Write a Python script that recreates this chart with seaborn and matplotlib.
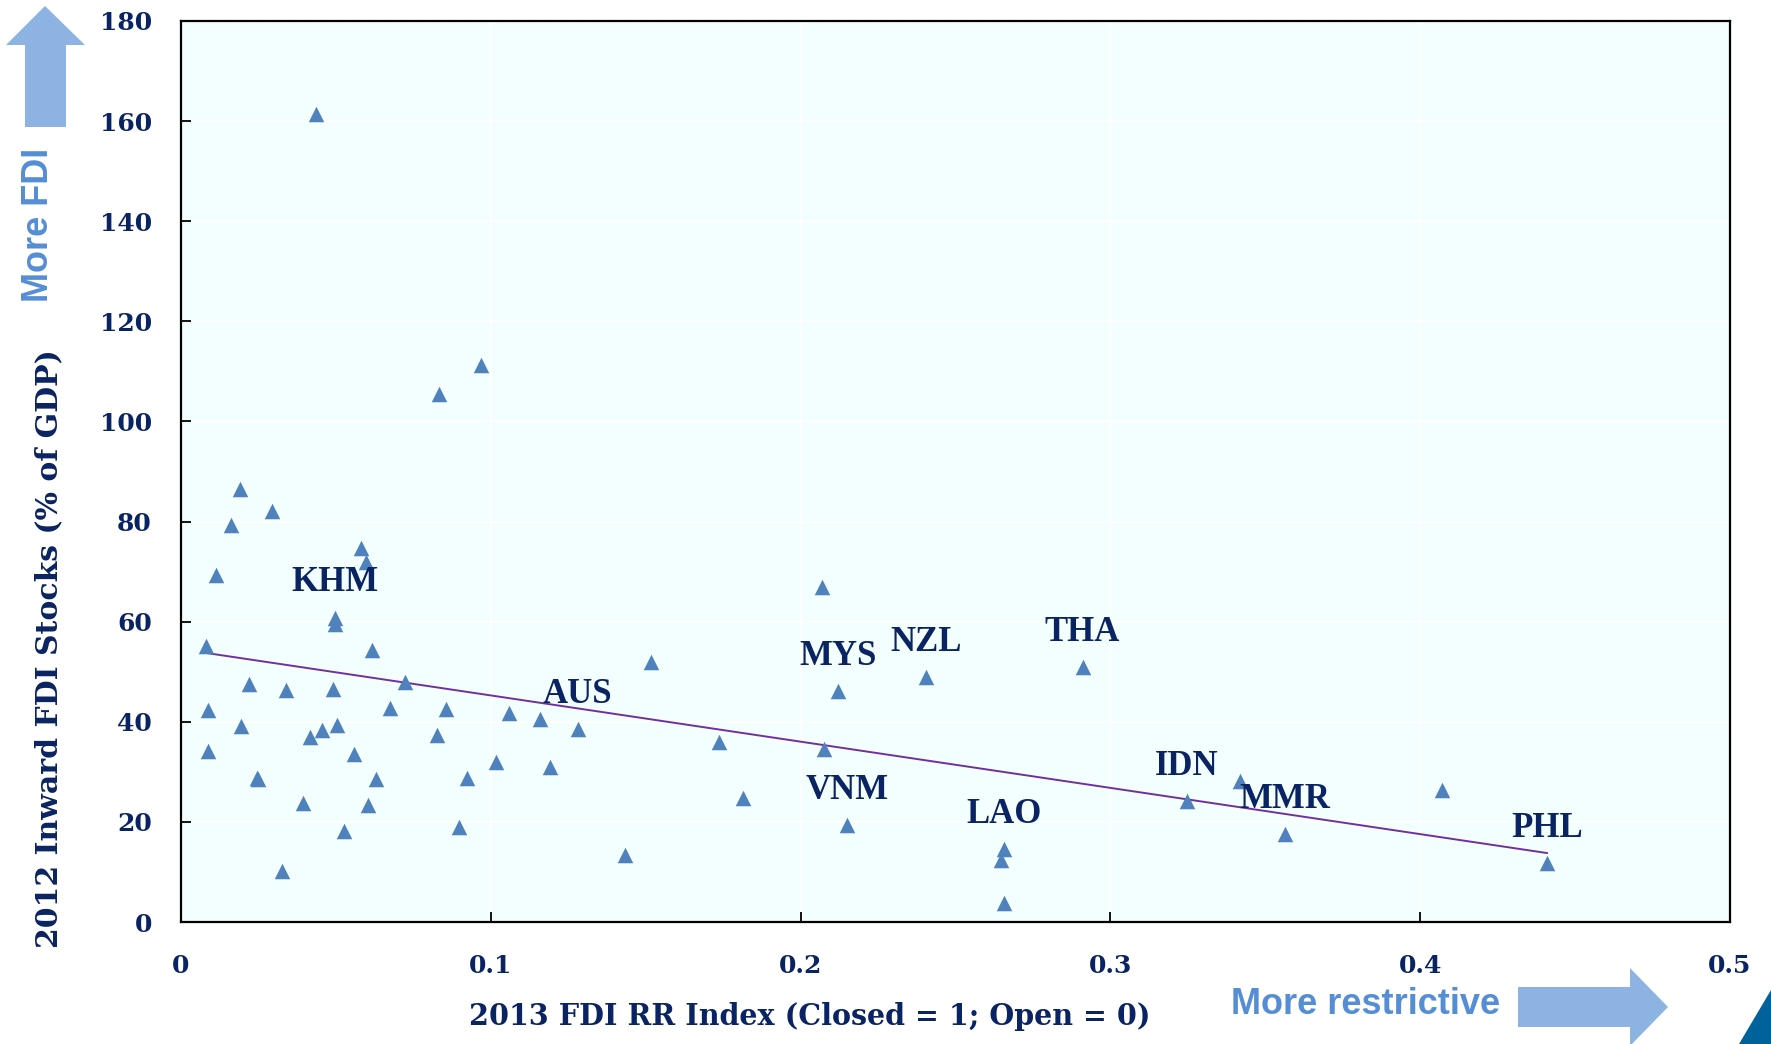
import numpy as np
import pandas as pd
import seaborn as sns
import matplotlib.pyplot as plt
from matplotlib.patches import Polygon

# 2013 FDI regulatory restrictiveness index vs 2012 inward FDI stocks (% of GDP)
rr_index = [0.0436, 0.0967, 0.0833, 0.0189, 0.0295, 0.0160, 0.0113, 0.0580, 0.0596, 0.2070,
            0.0498, 0.0498, 0.0080, 0.0618, 0.1516, 0.2910, 0.2404, 0.0218, 0.0724, 0.0338,
            0.0491, 0.2120, 0.0087, 0.0676, 0.0855, 0.1060, 0.1160, 0.0193, 0.0505, 0.1280,
            0.0455, 0.0415, 0.0825, 0.1735, 0.0087, 0.0560, 0.2076, 0.1018, 0.1190, 0.0244,
            0.0250, 0.0629, 0.0924, 0.4070, 0.3418, 0.0393, 0.0604, 0.3247, 0.1815, 0.2149,
            0.0527, 0.0898, 0.3564, 0.2658, 0.2647, 0.1433, 0.4410, 0.0327, 0.2655]
fdi_stock = [161.5, 111.3, 105.4, 86.5, 82.2, 79.3, 69.4, 74.8, 71.9, 66.9,
             60.8, 59.5, 55.2, 54.3, 52.0, 50.9, 48.9, 47.5, 48.0, 46.4,
             46.6, 46.2, 42.4, 42.8, 42.6, 41.7, 40.5, 39.2, 39.4, 38.5,
             38.3, 36.9, 37.4, 36.0, 34.2, 33.6, 34.5, 32.0, 30.9, 28.8,
             28.6, 28.6, 28.8, 26.4, 28.2, 23.7, 23.4, 24.1, 24.8, 19.4,
             18.2, 18.9, 17.6, 14.6, 12.4, 13.3, 11.7, 10.1, 3.8]
iso_code = ['', '', '', '', '', '', '', '', '', '',
            'KHM', '', '', '', '', 'THA', 'NZL', '', '', '',
            '', 'MYS', '', '', '', '', '', '', '', 'AUS',
            '', '', '', '', '', '', '', '', '', '',
            '', '', '', '', '', '', '', 'IDN', '', 'VNM',
            '', '', 'MMR', 'LAO', '', '', 'PHL', '', '']

x_ticks = [0, 0.1, 0.2, 0.3, 0.4, 0.5]
x_tick_labels = ['0', '0.1', '0.2', '0.3', '0.4', '0.5']
y_ticks = [0, 20, 40, 60, 80, 100, 120, 140, 160, 180]

NAVY = '#0A2362'
MARKER = '#4F81BD'
TREND = '#7030A0'
ARROW = '#8DB3E2'
ARROW_TEXT = '#558ED5'

W, H = 1771, 1044


def px(points):
    # pixel coords (origin top-left) -> figure fraction
    return [(x / W, 1 - y / H) for x, y in points]


def main():
    sns.set_style('ticks')
    plt.rcParams['font.family'] = ['Liberation Serif', 'DejaVu Serif']

    df = pd.DataFrame({'rr': rr_index, 'fdi': fdi_stock, 'iso': iso_code})

    fig = plt.figure(figsize=(W / 100, H / 100), dpi=100)
    ax = fig.add_axes([181 / W, 1 - 922 / H, (1730 - 181) / W, (922 - 21) / H])
    ax.set_facecolor('#F3FFFE')

    ax.grid(True, color='white', linewidth=1.2)
    ax.set_axisbelow(True)

    sns.regplot(data=df, x='rr', y='fdi', scatter=False, ci=None, ax=ax,
                line_kws={'color': TREND, 'linewidth': 1.4})
    sns.scatterplot(data=df, x='rr', y='fdi', marker='^', s=125, color=MARKER,
                    linewidth=0, ax=ax, zorder=3)

    # country labels sit just above their point
    for _, row in df[df['iso'] != ''].iterrows():
        ax.annotate(row['iso'], (row['rr'], row['fdi']), xytext=(0, 25),
                    textcoords='offset points', ha='center', va='center',
                    fontsize=25, fontweight='bold', color=NAVY, zorder=4)

    ax.set_xlim(0, 0.5)
    ax.set_ylim(0, 180)
    ax.set_xticks(x_ticks)
    ax.set_xticklabels(x_tick_labels)
    ax.set_yticks(y_ticks)

    for side in ['top', 'right', 'left', 'bottom']:
        ax.spines[side].set_visible(True)
        ax.spines[side].set_color('black')
        ax.spines[side].set_linewidth(1.6)

    ax.tick_params(axis='both', direction='in', length=7, width=1.3, colors='black')
    ax.tick_params(axis='y', pad=21)
    ax.tick_params(axis='x', pad=23)
    for lab in ax.get_xticklabels() + ax.get_yticklabels():
        lab.set_fontfamily('DejaVu Serif')
        lab.set_fontweight('bold')
        lab.set_fontsize(18)
        lab.set_color(NAVY)

    ax.set_xlabel('2013 FDI RR Index (Closed = 1; Open = 0)', fontsize=20.6,
                  fontweight='bold', color=NAVY, family='DejaVu Serif')
    ax.set_ylabel('2012 Inward FDI Stocks (% of GDP)', fontsize=21.5,
                  fontweight='bold', color=NAVY, family='DejaVu Serif')
    ax.xaxis.set_label_coords((810 - 181) / (1730 - 181), -(1002 - 922) / (922 - 21))
    ax.yaxis.set_label_coords(-(181 - 63) / (1730 - 181), (922 - 649) / (922 - 21))

    # direction arrows
    up = [(45, 6), (85, 45), (66, 45), (66, 127), (25, 127), (25, 45), (6, 45)]
    fig.patches.append(Polygon(px(up), closed=True, transform=fig.transFigure,
                               facecolor=ARROW, edgecolor='none'))
    fig.text(38 / W, 1 - 225 / H, 'More FDI', rotation=90, ha='center', va='center',
             fontsize=26, fontweight='bold', color=ARROW_TEXT, family='Liberation Sans')

    right = [(1518, 987), (1630, 987), (1630, 968), (1668, 1007), (1630, 1046),
             (1630, 1027), (1518, 1027)]
    fig.patches.append(Polygon(px(right), closed=True, transform=fig.transFigure,
                               facecolor=ARROW, edgecolor='none'))
    fig.text(1366 / W, 1 - 1005 / H, 'More restrictive', ha='center', va='center',
             fontsize=26, fontweight='bold', color=ARROW_TEXT, family='Liberation Sans')

    corner = [(1739, 1044), (1771, 990), (1771, 1044)]
    fig.patches.append(Polygon(px(corner), closed=True, transform=fig.transFigure,
                               facecolor='#00629B', edgecolor='none'))

    fig.savefig('out.png', dpi=100, facecolor='white')
    plt.close(fig)


if __name__ == '__main__':
    main()
